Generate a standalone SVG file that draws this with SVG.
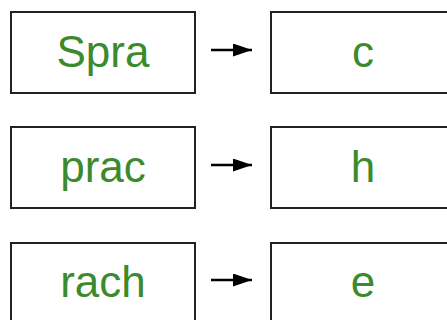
<svg xmlns="http://www.w3.org/2000/svg" width="447" height="320" viewBox="0 0 447 320">
<defs>
<marker id="ah" markerWidth="19" markerHeight="13" refX="19" refY="6.5" orient="auto" markerUnits="userSpaceOnUse">
<path d="M0,0 L19,6.5 L0,13 Z" fill="#000"/>
</marker>
<style>
.box{fill:#fff;stroke:#222;stroke-width:2}
.lbl{font-family:"Liberation Sans",Arial,sans-serif;font-size:44px;fill:#3b8a2b;text-anchor:middle}
.conn{stroke:#000;stroke-width:2.5;fill:none}
</style>
</defs>
<rect width="447" height="320" fill="#fff"/>
<g id="n1"><rect class="box" x="11" y="12" width="184" height="81"/><text class="lbl" x="103" y="67">Spra</text></g>
<g id="n2"><rect class="box" x="271" y="12" width="184" height="81"/><text class="lbl" x="363" y="67">c</text></g>
<g id="n3"><rect class="box" x="11" y="127" width="184" height="81"/><text class="lbl" x="103" y="182">prac</text></g>
<g id="n4"><rect class="box" x="271" y="127" width="184" height="81"/><text class="lbl" x="363" y="182">h</text></g>
<g id="n5"><rect class="box" x="11" y="243" width="184" height="81"/><text class="lbl" x="103" y="297">rach</text></g>
<g id="n6"><rect class="box" x="271" y="243" width="184" height="81"/><text class="lbl" x="363" y="297">e</text></g>
<g id="connectors">
<path class="conn" d="M211,50 H252" marker-end="url(#ah)"/>
<path class="conn" d="M211,165 H252" marker-end="url(#ah)"/>
<path class="conn" d="M211,280 H252" marker-end="url(#ah)"/>
</g>
</svg>
